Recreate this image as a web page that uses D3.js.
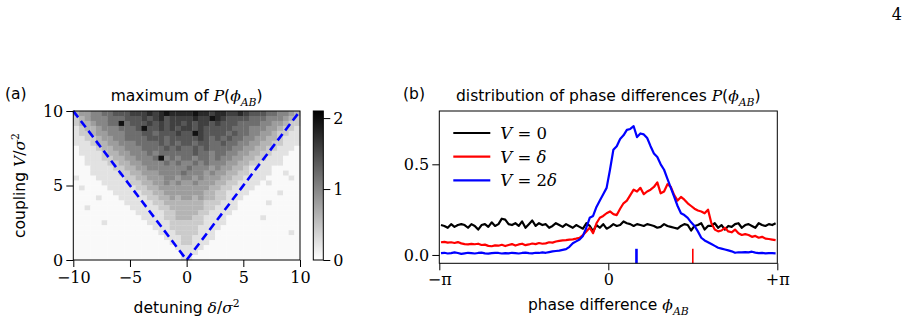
<!DOCTYPE html>
<html>
<head>
<meta charset="utf-8">
<script src="https://cdn.jsdelivr.net/npm/d3@7"></script>
<style>
  body { margin: 0; background: #fff; }
</style>
</head>
<body>
<div id="fig"></div>
<script>
/* global d3 */

// panel (a): maximum of P(phi_AB), one hex digit per cell
// rows go from coupling V = 10 (top) down to V = 0, columns from delta = -10 to 10
const heatRows = [
  '3445566777888989a9999a998998898777665543',
  '234555666777878978888988a987777666555432',
  '23345566a6777878788787887877766665544322',
  '123345556667a778787887877777666555443221',
  '122344555666776777877a877776766554432211',
  '1122344556666777677777876767665544332111',
  '1112334455566667676776776676655443322111',
  '0111233445556666767667676666554433221110',
  '0111123344555656666667665665544332211100',
  '001112233445556a565665665655443322111000',
  '0011112233445555656556565554433221111000',
  '0001111223344555555565554544332111100000',
  '0001111122334445555655545443322111100100',
  '1000111112233444554554544433221111000010',
  '0000011111223344545445444332211110100000',
  '0100001111122334444444443322111100000000',
  '0000000111112233444444433221111000001000',
  '0000100011111223343443433221110000000000',
  '0000000001111122333333322211100000100000',
  '0010000000111112233333322111100000000000',
  '0000000000011111223333221111000000000000',
  '0000000000001111223332211110000001000000',
  '0000010000000111122222211110000000000000',
  '0000000000000011122222111100000000000000',
  '0000000000000001112222111000000000000010',
  '0000000000000000111221111000000000000000',
  '0000000000000000011221110000000000000000',
  '0000000000000000001111100000000000000000',
  '0000000000000000000111000000000000000000',
  '0000000000000000000110000000000000000000',
];
const detuningExtent = [-10, 10];
const couplingExtent = [0, 10];
const heatTicksX = [-10, -5, 0, 5, 10];
const heatTicksY = [0, 5, 10];
const colorbarTicks = [0, 1, 2];
const colorMax = 2.1;

// panel (b): P(phi_AB) over 100 bins from -pi to +pi
const pV0 = [
  0.165, 0.160, 0.150, 0.170, 0.155, 0.165, 0.170, 0.165, 0.150, 0.170,
  0.160, 0.140, 0.165, 0.170, 0.155, 0.180, 0.160, 0.170, 0.200, 0.195,
  0.170, 0.165, 0.175, 0.160, 0.185, 0.150, 0.170, 0.190, 0.160, 0.175,
  0.165, 0.170, 0.150, 0.160, 0.175, 0.165, 0.155, 0.170, 0.160, 0.150,
  0.165, 0.155, 0.145, 0.175, 0.160, 0.130, 0.165, 0.150, 0.170, 0.145,
  0.155, 0.170, 0.160, 0.165, 0.185, 0.175, 0.170, 0.160, 0.170, 0.165,
  0.160, 0.170, 0.165, 0.160, 0.150, 0.155, 0.170, 0.160, 0.155, 0.150,
  0.145, 0.160, 0.170, 0.165, 0.135, 0.160, 0.165, 0.175, 0.140, 0.160,
  0.160, 0.175, 0.150, 0.165, 0.140, 0.160, 0.155, 0.170, 0.175, 0.150,
  0.165, 0.170, 0.160, 0.150, 0.175, 0.165, 0.160, 0.170, 0.165, 0.175,
];
const pVd = [
  0.070, 0.072, 0.068, 0.070, 0.066, 0.071, 0.064, 0.060, 0.058, 0.061,
  0.059, 0.062, 0.055, 0.057, 0.050, 0.048, 0.053, 0.051, 0.056, 0.049,
  0.055, 0.060, 0.052, 0.058, 0.062, 0.054, 0.058, 0.063, 0.060, 0.066,
  0.062, 0.064, 0.070, 0.068, 0.074, 0.078, 0.080, 0.082, 0.085, 0.086,
  0.090, 0.095, 0.110, 0.130, 0.150, 0.120, 0.175, 0.205, 0.215, 0.230,
  0.240, 0.225, 0.220, 0.255, 0.285, 0.300, 0.330, 0.360, 0.350, 0.370,
  0.335, 0.350, 0.360, 0.375, 0.400, 0.340, 0.350, 0.390, 0.375, 0.330,
  0.300, 0.320, 0.305, 0.285, 0.270, 0.255, 0.245, 0.240, 0.230, 0.250,
  0.175, 0.140, 0.130, 0.135, 0.150, 0.130, 0.125, 0.140, 0.120, 0.110,
  0.115, 0.110, 0.100, 0.105, 0.095, 0.100, 0.090, 0.088, 0.085, 0.082,
];
const pV2d = [
  0.010, 0.012, 0.008, 0.010, 0.014, 0.011, 0.006, 0.009, 0.012, 0.010,
  0.008, 0.011, 0.013, 0.009, 0.007, 0.010, 0.012, 0.011, 0.008, 0.010,
  0.009, 0.012, 0.010, 0.008, 0.011, 0.013, 0.010, 0.009, 0.012, 0.011,
  0.014, 0.012, 0.016, 0.020, 0.022, 0.024, 0.028, 0.032, 0.045, 0.065,
  0.075, 0.085, 0.105, 0.150, 0.205, 0.215, 0.265, 0.300, 0.335, 0.370,
  0.470, 0.580, 0.600, 0.640, 0.660, 0.690, 0.695, 0.710, 0.650, 0.670,
  0.665, 0.645, 0.600, 0.560, 0.540, 0.500, 0.470, 0.420, 0.370, 0.320,
  0.270, 0.230, 0.220, 0.205, 0.180, 0.160, 0.130, 0.095, 0.080, 0.070,
  0.060, 0.050, 0.040, 0.035, 0.030, 0.025, 0.020, 0.012, 0.015, 0.014,
  0.016, 0.014, 0.018, 0.013, 0.010, 0.011, 0.009, 0.010, 0.010, 0.009,
];
const seriesNames = [['V', ' = 0'], ['V', ' = ', 'δ'], ['V', ' = 2', 'δ']];
const seriesColors = ['#000000', '#ff0000', '#0000ff'];
// locked phases arcsin(delta / V) marked on the axis
const lockMarks = [Math.PI / 6, Math.PI / 2];
const lockColors = ['#0000ff', '#ff0000'];
const lockWidths = [2.6, 1.6];
const phaseTicks = [-Math.PI, 0, Math.PI];
const phaseTickLabels = ['−π', '0', '+π'];
const probTicks = [0, 0.5];

const SANS = 'DejaVu Sans';
const SERIF = 'DejaVu Serif';
const LABEL = 15.5;
const TICK = 16;
const width = 908;
const height = 325;

const svg = d3.select('#fig')
  .append('svg')
  .attr('width', width)
  .attr('height', height);

// rich text: parts are [text, italic, sub/sup]
const rich = (sel, parts, size, family) => {
  let shift = 0;
  parts.forEach((p) => {
    const [t, it, pos] = p;
    const target = pos === 'sub' ? size * 0.3 : (pos === 'sup' ? -size * 0.4 : 0);
    const ts = sel.append('tspan')
      .text(t)
      .style('font-family', it || pos ? SERIF : family)
      .style('font-style', it ? 'italic' : 'normal')
      .style('font-size', `${pos ? size * 0.7 : size}px`);
    if (target !== shift) {
      ts.attr('dy', target - shift);
      shift = target;
    }
  });
  return sel;
};

// page number
svg.append('text')
  .attr('x', 902)
  .attr('y', 20)
  .attr('text-anchor', 'end')
  .style('font-family', SERIF)
  .style('font-size', '16px')
  .text('4');

// ---------- panel (a) ----------
const ax = { left: 73.3, right: 300, top: 111, bottom: 260 };
const nCols = heatRows[0].length;
const nRows = heatRows.length;

const xA = d3.scaleLinear().domain(detuningExtent).range([ax.left, ax.right]);
const yA = d3.scaleLinear().domain(couplingExtent).range([ax.bottom, ax.top]);
const colBand = d3.scaleBand().domain(d3.range(nCols)).range([ax.left, ax.right]);
const rowBand = d3.scaleBand().domain(d3.range(nRows)).range([ax.top, ax.bottom]);
const grey = d3.scaleLinear().domain([0, colorMax]).range(['#ffffff', '#000000']).clamp(true);

const cells = [];
heatRows.forEach((row, r) => {
  row.split('').forEach((ch, c) => {
    const d = parseInt(ch, 16);
    cells.push({ r, c, v: d === 0 ? 0.05 : 0.05 + 0.19 * d });
  });
});

const panelA = svg.append('g');
panelA.selectAll('rect.cell')
  .data(cells)
  .enter()
  .append('rect')
  .attr('class', 'cell')
  .attr('x', (d) => colBand(d.c))
  .attr('y', (d) => rowBand(d.r))
  .attr('width', colBand.bandwidth() + 0.3)
  .attr('height', rowBand.bandwidth() + 0.3)
  .attr('fill', (d) => grey(d.v));

// V = |delta| boundary
panelA.append('path')
  .attr('d', d3.line().x((d) => xA(d[0])).y((d) => yA(d[1]))([[-10, 10], [0, 0], [10, 10]]))
  .attr('fill', 'none')
  .attr('stroke', '#0000ff')
  .attr('stroke-width', 2.6)
  .attr('stroke-dasharray', '8,4.5');

panelA.append('rect')
  .attr('x', ax.left)
  .attr('y', ax.top)
  .attr('width', ax.right - ax.left)
  .attr('height', ax.bottom - ax.top)
  .attr('fill', 'none')
  .attr('stroke', '#000')
  .attr('stroke-width', 1);

const styleAxis = (g) => {
  g.select('.domain').remove();
  g.selectAll('.tick line').attr('stroke', '#000').attr('stroke-width', 1);
  g.selectAll('.tick text')
    .style('font-family', SERIF)
    .style('font-size', `${TICK}px`)
    .attr('fill', '#000');
};

panelA.append('g')
  .attr('transform', `translate(0,${ax.bottom})`)
  .call(d3.axisBottom(xA).tickValues(heatTicksX).tickSize(7).tickPadding(5)
    .tickFormat((d) => (d < 0 ? `−${-d}` : `${d}`)))
  .call(styleAxis);

panelA.append('g')
  .attr('transform', `translate(${ax.left},0)`)
  .call(d3.axisLeft(yA).tickValues(heatTicksY).tickSize(7).tickPadding(3))
  .call(styleAxis);

// colorbar
const cb = { left: 313.3, w: 10 };
const yCb = d3.scaleLinear().domain([0, colorMax]).range([ax.bottom, ax.top]);
const grad = svg.append('defs').append('linearGradient')
  .attr('id', 'cbgrad')
  .attr('x1', 0).attr('y1', 1)
  .attr('x2', 0).attr('y2', 0);
grad.append('stop').attr('offset', '0%').attr('stop-color', grey(0));
grad.append('stop').attr('offset', '100%').attr('stop-color', grey(colorMax));

panelA.append('rect')
  .attr('x', cb.left)
  .attr('y', ax.top)
  .attr('width', cb.w)
  .attr('height', ax.bottom - ax.top)
  .attr('fill', 'url(#cbgrad)')
  .attr('stroke', '#000')
  .attr('stroke-width', 1);

panelA.append('g')
  .attr('transform', `translate(${cb.left + cb.w},0)`)
  .call(d3.axisRight(yCb).tickValues(colorbarTicks).tickSize(7).tickPadding(3)
    .tickFormat(d3.format('d')))
  .call(styleAxis);

rich(panelA.append('text')
  .attr('x', (ax.left + ax.right) / 2)
  .attr('y', 101)
  .attr('text-anchor', 'middle'),
[['maximum of ', false], ['P', true], ['(', false], ['ϕ', true], ['AB', true, 'sub'], [')', false]], LABEL, SANS);

rich(panelA.append('text')
  .attr('x', (ax.left + ax.right) / 2)
  .attr('y', 313)
  .attr('text-anchor', 'middle'),
[['detuning ', false], ['δ', true], ['/', false], ['σ', true], ['2', false, 'sup']], LABEL, SANS);

rich(panelA.append('text')
  .attr('transform', `translate(25,${(ax.top + ax.bottom) / 2}) rotate(-90)`)
  .attr('text-anchor', 'middle'),
[['coupling ', false], ['V', true], ['/', false], ['σ', true], ['2', false, 'sup']], LABEL, SANS);

svg.append('text')
  .attr('x', 5)
  .attr('y', 99)
  .style('font-family', SANS)
  .style('font-size', `${LABEL}px`)
  .text('(a)');

// ---------- panel (b) ----------
const bx = { left: 439.3, right: 777.3, top: 111, bottom: 263.3 };
const xB = d3.scaleLinear().domain([-Math.PI, Math.PI]).range([bx.left, bx.right]);
const yB = d3.scaleLinear().domain([-0.046, 0.794]).range([bx.bottom, bx.top]);
const binCenter = (i, n) => -Math.PI + ((i + 0.5) * 2 * Math.PI) / n;

const panelB = svg.append('g');
const line = d3.line()
  .x((d, i, arr) => xB(binCenter(i, arr.length)))
  .y((d) => yB(d));

[pV0, pVd, pV2d].forEach((s, k) => {
  panelB.append('path')
    .attr('d', line(s))
    .attr('fill', 'none')
    .attr('stroke', seriesColors[k])
    .attr('stroke-width', 2.2)
    .attr('stroke-linejoin', 'round');
});

panelB.selectAll('line.lock')
  .data(lockMarks)
  .enter()
  .append('line')
  .attr('class', 'lock')
  .attr('x1', (d) => xB(d))
  .attr('x2', (d) => xB(d))
  .attr('y1', bx.bottom)
  .attr('y2', yB(0.034))
  .attr('stroke', (d, i) => lockColors[i])
  .attr('stroke-width', (d, i) => lockWidths[i]);

panelB.append('rect')
  .attr('x', bx.left)
  .attr('y', bx.top)
  .attr('width', bx.right - bx.left)
  .attr('height', bx.bottom - bx.top)
  .attr('fill', 'none')
  .attr('stroke', '#000')
  .attr('stroke-width', 1);

panelB.append('g')
  .attr('transform', `translate(0,${bx.bottom})`)
  .call(d3.axisBottom(xB).tickValues(phaseTicks).tickSize(7).tickPadding(3)
    .tickFormat((d, i) => phaseTickLabels[i]))
  .call(styleAxis);

panelB.append('g')
  .attr('transform', `translate(${bx.left},0)`)
  .call(d3.axisLeft(yB).tickValues(probTicks).tickSize(7).tickPadding(3)
    .tickFormat(d3.format('.1f')))
  .call(styleAxis);

// legend
const legend = panelB.append('g')
  .attr('transform', `translate(${bx.left + 14},${bx.top + 22})`);
seriesNames.forEach((name, k) => {
  const row = legend.append('g').attr('transform', `translate(0,${k * 23.7})`);
  row.append('line')
    .attr('x1', 0)
    .attr('x2', 37)
    .attr('stroke', seriesColors[k])
    .attr('stroke-width', 2.2);
  rich(row.append('text')
    .attr('x', 47)
    .attr('y', 6),
  name.map((t) => [t, t === 'V' || t === 'δ']), 16.5, SERIF);
});

rich(panelB.append('text')
  .attr('x', (bx.left + bx.right) / 2)
  .attr('y', 101)
  .attr('text-anchor', 'middle'),
[['distribution of phase differences ', false], ['P', true], ['(', false], ['ϕ', true], ['AB', true, 'sub'], [')', false]], LABEL, SANS);

rich(panelB.append('text')
  .attr('x', (bx.left + bx.right) / 2)
  .attr('y', 310)
  .attr('text-anchor', 'middle'),
[['phase difference ', false], ['ϕ', true], ['AB', true, 'sub']], LABEL, SANS);

svg.append('text')
  .attr('x', 403)
  .attr('y', 99)
  .style('font-family', SANS)
  .style('font-size', `${LABEL}px`)
  .text('(b)');
</script>
</body>
</html>
